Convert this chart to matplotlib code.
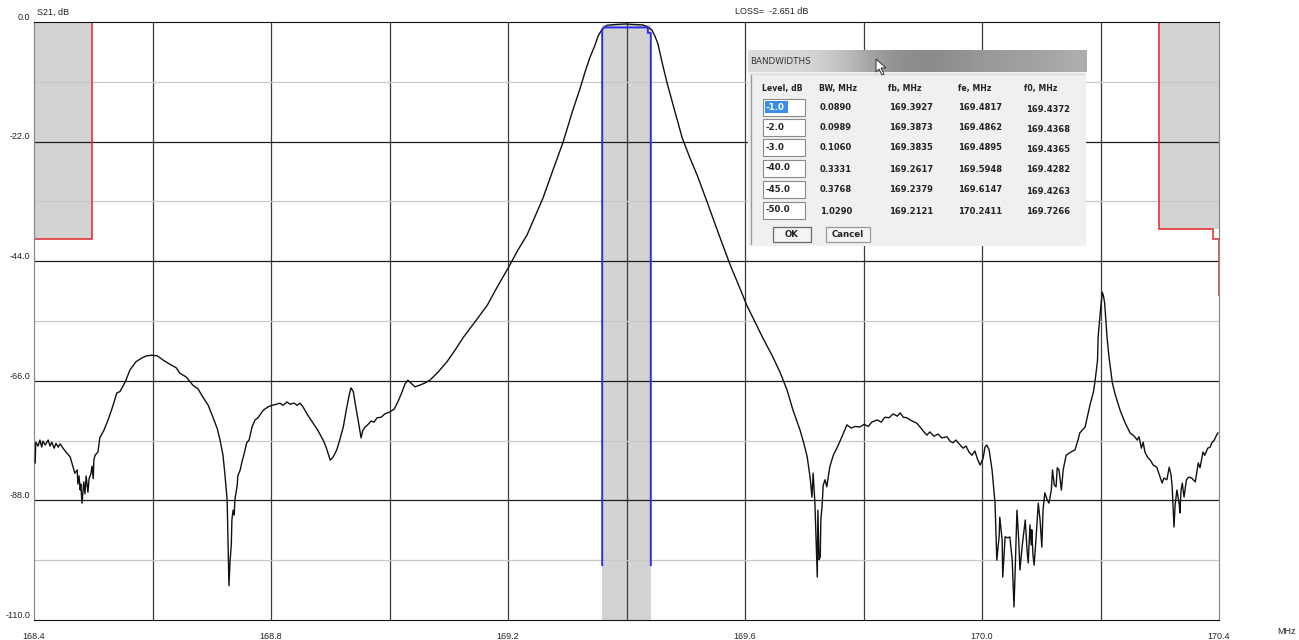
import numpy as np
import matplotlib
matplotlib.use("Agg")
import matplotlib.pyplot as plt
import matplotlib.transforms as mtransforms
from matplotlib.patches import Rectangle, Polygon

plt.rcParams['font.family'] = ['Liberation Sans', 'DejaVu Sans']

# ─── Dane: odpowiedź S21 filtra ─────────────────────────────────
freq_mhz = [
    168.402, 168.403, 168.407, 168.410, 168.413, 168.415, 168.419, 168.424, 168.427, 168.430,
    168.434, 168.437, 168.441, 168.444, 168.449, 168.454, 168.461, 168.466, 168.469, 168.473,
    168.474, 168.476, 168.478, 168.479, 168.481, 168.484, 168.486, 168.488, 168.491, 168.493,
    168.496, 168.498, 168.500, 168.501, 168.503, 168.508, 168.511, 168.518, 168.525, 168.532,
    168.540, 168.545, 168.554, 168.562, 168.572, 168.582, 168.590, 168.599, 168.608, 168.618,
    168.630, 168.640, 168.646, 168.657, 168.668, 168.677, 168.685, 168.694, 168.702, 168.709,
    168.714, 168.719, 168.722, 168.726, 168.727, 168.729, 168.731, 168.733, 168.734, 168.736,
    168.738, 168.739, 168.743, 168.744, 168.748, 168.751, 168.754, 168.759, 168.763, 168.768,
    168.773, 168.778, 168.787, 168.795, 168.802, 168.810, 168.815, 168.820, 168.827, 168.832,
    168.839, 168.844, 168.849, 168.854, 168.862, 168.871, 168.879, 168.888, 168.893, 168.900,
    168.905, 168.911, 168.916, 168.922, 168.927, 168.932, 168.935, 168.939, 168.942, 168.947,
    168.952, 168.955, 168.959, 168.964, 168.969, 168.974, 168.979, 168.986, 168.992, 169.001,
    169.008, 169.014, 169.021, 169.026, 169.031, 169.036, 169.043, 169.051, 169.060, 169.068,
    169.082, 169.097, 169.111, 169.124, 169.144, 169.165, 169.181, 169.200, 169.217, 169.232,
    169.246, 169.259, 169.276, 169.293, 169.308, 169.322, 169.330, 169.338, 169.347, 169.352,
    169.359, 169.367, 169.381, 169.398, 169.414, 169.428, 169.436, 169.443, 169.448, 169.453,
    169.460, 169.468, 169.480, 169.494, 169.507, 169.519, 169.533, 169.546, 169.560, 169.575,
    169.590, 169.603, 169.617, 169.630, 169.646, 169.659, 169.671, 169.681, 169.693, 169.700,
    169.705, 169.710, 169.712, 169.713, 169.715, 169.717, 169.718, 169.720, 169.722, 169.723,
    169.725, 169.727, 169.728, 169.730, 169.732, 169.735, 169.738, 169.743, 169.749, 169.755,
    169.764, 169.772, 169.779, 169.786, 169.794, 169.801, 169.808, 169.814, 169.823, 169.830,
    169.836, 169.843, 169.850, 169.857, 169.862, 169.867, 169.873, 169.882, 169.890, 169.897,
    169.902, 169.907, 169.912, 169.919, 169.926, 169.932, 169.941, 169.946, 169.951, 169.956,
    169.963, 169.968, 169.973, 169.978, 169.983, 169.988, 169.993, 169.997, 170.002, 170.005,
    170.008, 170.012, 170.017, 170.022, 170.025, 170.029, 170.030, 170.034, 170.035, 170.039,
    170.044, 170.047, 170.051, 170.054, 170.056, 170.059, 170.062, 170.064, 170.068, 170.073,
    170.076, 170.078, 170.081, 170.083, 170.084, 170.086, 170.088, 170.091, 170.095, 170.098,
    170.101, 170.103, 170.106, 170.110, 170.113, 170.117, 170.119, 170.122, 170.125, 170.127,
    170.130, 170.134, 170.137, 170.142, 170.150, 170.157, 170.162, 170.165, 170.174, 170.179,
    170.183, 170.188, 170.191, 170.195, 170.196, 170.200, 170.202, 170.203, 170.205, 170.207,
    170.209, 170.211, 170.214, 170.220, 170.225, 170.233, 170.241, 170.250, 170.257, 170.262,
    170.265, 170.269, 170.272, 170.275, 170.279, 170.284, 170.289, 170.295, 170.300, 170.304,
    170.307, 170.312, 170.316, 170.319, 170.321, 170.324, 170.326, 170.329, 170.333, 170.334,
    170.336, 170.338, 170.341, 170.345, 170.349, 170.354, 170.360, 170.365, 170.368, 170.373,
    170.376, 170.381, 170.385, 170.388, 170.392, 170.395, 170.398,
]
s21_db = [
    -81.1, -77.3, -78.0, -76.9, -78.2, -77.1, -77.8, -76.9, -78.0, -77.3,
    -78.4, -77.5, -78.2, -77.6, -78.4, -79.1, -80.0, -81.9, -83.0, -82.4,
    -85.0, -83.5, -86.1, -85.0, -88.5, -84.6, -86.8, -83.5, -86.5, -84.0,
    -83.1, -81.7, -84.0, -80.6, -79.7, -79.1, -76.5, -75.1, -73.2, -71.0,
    -68.2, -68.0, -66.2, -64.0, -62.5, -61.8, -61.4, -61.3, -61.4, -62.2,
    -63.0, -63.6, -64.6, -65.3, -66.8, -67.5, -69.0, -70.5, -72.7, -74.7,
    -76.9, -79.7, -83.0, -87.9, -93.4, -103.7, -99.0, -96.2, -91.6, -89.8,
    -90.7, -87.9, -85.2, -83.5, -82.4, -80.9, -79.7, -77.4, -76.9, -74.5,
    -73.2, -72.8, -71.4, -70.8, -70.5, -70.3, -70.1, -70.5, -69.9, -70.3,
    -70.1, -70.5, -70.1, -70.8, -72.3, -73.8, -75.1, -76.9, -78.2, -80.6,
    -80.0, -78.7, -76.9, -74.5, -71.4, -68.6, -67.3, -68.0, -70.1, -73.2,
    -76.5, -75.1, -74.5, -74.0, -73.4, -73.6, -72.8, -72.7, -72.1, -71.7,
    -71.2, -69.9, -68.1, -66.6, -65.9, -66.4, -67.1, -66.8, -66.4, -65.9,
    -64.4, -62.5, -60.3, -58.1, -55.2, -52.1, -48.9, -45.3, -41.9, -39.2,
    -35.7, -32.4, -27.2, -22.1, -16.7, -12.1, -9.2, -6.6, -4.2, -2.6,
    -1.3, -0.6, -0.46, -0.37, -0.46, -0.55, -0.9, -1.5, -2.6, -4.0,
    -7.4, -11.0, -15.8, -21.3, -25.0, -28.1, -32.2, -36.1, -40.3, -44.7,
    -48.6, -52.1, -55.2, -58.1, -61.4, -64.4, -67.7, -71.4, -75.1, -77.8,
    -80.0, -83.9, -86.1, -87.4, -83.0, -86.8, -88.5, -95.3, -102.1, -89.8,
    -98.9, -98.4, -91.6, -89.2, -85.2, -84.2, -85.5, -81.9, -79.7, -78.4,
    -76.2, -74.1, -74.7, -74.4, -74.5, -74.0, -74.4, -73.6, -73.2, -73.6,
    -72.7, -72.8, -72.1, -72.5, -71.9, -72.7, -72.8, -73.4, -73.8, -74.7,
    -75.4, -76.0, -75.4, -76.2, -75.8, -76.5, -76.3, -77.1, -77.4, -76.9,
    -77.8, -78.4, -78.0, -79.1, -79.7, -78.9, -80.6, -81.5, -80.2, -78.2,
    -77.8, -78.7, -82.4, -88.5, -99.0, -94.5, -91.1, -95.3, -102.1, -94.7,
    -94.9, -94.7, -99.0, -107.6, -100.8, -89.8, -95.3, -100.8, -96.2, -91.6,
    -97.1, -99.5, -92.5, -96.2, -93.4, -98.0, -99.9, -95.3, -88.5, -91.6,
    -96.6, -89.8, -86.6, -87.9, -88.5, -86.1, -82.4, -85.2, -85.5, -82.0,
    -82.4, -86.1, -82.4, -79.7, -79.1, -78.7, -76.9, -75.6, -74.5, -72.1,
    -70.1, -68.1, -65.9, -62.2, -57.9, -53.0, -50.8, -49.7, -50.4, -51.7,
    -54.8, -57.9, -61.3, -66.4, -68.6, -71.4, -73.6, -75.6, -76.2, -76.9,
    -76.3, -78.4, -77.3, -79.1, -80.0, -80.6, -81.5, -81.9, -83.5, -84.8,
    -83.9, -84.2, -81.9, -83.3, -85.5, -92.9, -88.8, -86.1, -88.8, -90.3,
    -86.1, -84.8, -87.4, -84.2, -83.7, -83.9, -84.6, -81.1, -82.0, -79.1,
    -79.7, -78.4, -78.2, -77.4, -76.9, -76.2, -75.6,
]

# maska (czerwona linia) i pasmo
mask_f = [168.4, 168.498, 168.498, 170.299, 170.299, 170.39, 170.39, 170.4, 170.4]
mask_db = [-40.0, -40.0, 0.0, 0.0, -38.1, -38.1, -40.0, -40.0, -50.2]
pass_f = [169.359, 169.441]
blue_f = [169.359, 169.359, 169.362, 169.436, 169.436, 169.441, 169.441]
blue_db = [-99.9, -1.4, -1.0, -1.0, -2.0, -2.0, -99.9]

x_ticks = [168.4, 168.8, 169.2, 169.6, 170.0, 170.4]
x_grid = [168.6, 168.8, 169.0, 169.2, 169.4, 169.6, 169.8, 170.0, 170.2]
y_ticks = [0.0, -22.0, -44.0, -66.0, -88.0, -110.0]
y_minor = [-11.0, -33.0, -55.0, -77.0, -99.0]

# tabela BANDWIDTHS
bw_levels = ["-1.0", "-2.0", "-3.0", "-40.0", "-45.0", "-50.0"]
bw_mhz = ["0.0890", "0.0989", "0.1060", "0.3331", "0.3768", "1.0290"]
bw_fb = ["169.3927", "169.3873", "169.3835", "169.2617", "169.2379", "169.2121"]
bw_fe = ["169.4817", "169.4862", "169.4895", "169.5948", "169.6147", "170.2411"]
bw_f0 = ["169.4372", "169.4368", "169.4365", "169.4282", "169.4263", "169.7266"]

W, H = 1299, 640
fig = plt.figure(figsize=(W / 100, H / 100), dpi=100)
ax = fig.add_axes([34 / W, 20 / H, 1185 / W, 598 / H])
ax.set_xlim(168.4, 170.4)
ax.set_ylim(-110, 0)

# szare obszary
ax.add_patch(Rectangle((168.4, -40.0), 0.098, 40.0, facecolor="#d3d3d3", edgecolor="none", zorder=0))
ax.add_patch(Rectangle((170.299, -38.1), 0.101, 38.1, facecolor="#d3d3d3", edgecolor="none", zorder=0))
ax.add_patch(Rectangle((pass_f[0], -110), pass_f[1] - pass_f[0], 109.4,
                       facecolor="#d3d3d3", edgecolor="none", zorder=0))

# siatka
for g in x_grid:
    ax.axvline(g, color="#3c3c3c", lw=0.9, zorder=1)
for g in y_ticks[1:-1]:
    ax.axhline(g, color="#1e1e1e", lw=0.9, zorder=1)
for g in y_minor:
    ax.axhline(g, color="#c8c8c8", lw=0.9, zorder=1)

ax.plot(mask_f, mask_db, color="#e0262a", lw=1.1, zorder=2, solid_joinstyle="miter")
ax.plot(freq_mhz, s21_db, color="#111111", lw=1.0, zorder=3)
ax.plot(blue_f, blue_db, color="#2a2ee6", lw=1.4, zorder=4)

for side in ["left", "right"]:
    ax.spines[side].set_color("#8a8a8a")
    ax.spines[side].set_linewidth(0.9)
ax.spines["bottom"].set_color("#111111")
ax.spines["top"].set_color("#111111")
ax.set_xticks([])
ax.set_yticks([])

tr = mtransforms.blended_transform_factory(ax.transAxes, ax.transData)
for v in y_ticks:
    ax.text(-0.003, v + 0.4, f"{v:.1f}", transform=tr, ha="right", va="baseline",
            fontsize=6.5, color="#222222", clip_on=False)
trx = mtransforms.blended_transform_factory(ax.transData, ax.transAxes)
for v in x_ticks:
    ax.text(v, -0.02, f"{v:.1f}", transform=trx, ha="center", va="top",
            fontsize=6.5, color="#222222", clip_on=False)
fig.text(1287 / W, 1 - 632 / H, "MHz", ha="center", va="center", fontsize=6.5, color="#222222")
fig.text(37 / W, 1 - 12 / H, "S21, dB", ha="left", va="center", fontsize=6.5, color="#222222")
fig.text(735 / W, 1 - 12 / H, "LOSS=  -2.651 dB", ha="left", va="center", fontsize=6.5, color="#222222")

# ─── okno dialogowe BANDWIDTHS ──────────────────────────────────
DLG = dict(family="DejaVu Sans", fontweight="bold", color="#222222", va="center")
x0, x1, y0, y1 = 748, 1086, 50, 246
dax = fig.add_axes([x0 / W, 1 - y1 / H, (x1 - x0) / W, (y1 - y0) / H])
dax.set_xlim(x0, x1)
dax.set_ylim(y1, y0)
dax.axis("off")
dax.add_patch(Rectangle((x0, y0), x1 - x0, y1 - y0, facecolor="#f0f0f0", edgecolor="none"))
grad = np.array([[0.86, 0.85, 0.82, 0.74, 0.62, 0.55, 0.54, 0.57, 0.60, 0.62, 0.64, 0.68]])
dax.imshow(grad, cmap="gray", vmin=0, vmax=1, aspect="auto", extent=(x0, x1, 72, y0),
           interpolation="bicubic", zorder=1)
dax.text(750, 61, "BANDWIDTHS", family="DejaVu Sans", fontsize=6.3, color="#333333",
         va="center", ha="left", zorder=2)
dax.plot([751, 751], [74, 244], color="#9a9a9a", lw=1.0, zorder=2)
dax.plot([751, 1084], [74, 74], color="#d8d8d8", lw=1.0, zorder=2)

hdr_y = 88
for xx, t in [(762, "Level, dB"), (819, "BW, MHz"), (888, "fb, MHz"), (958, "fe, MHz"), (1024, "f0, MHz")]:
    dax.text(xx, hdr_y, t, fontsize=5.6, zorder=2, **DLG)
row_y = [107, 127, 147, 168, 189, 210]
for i, ry in enumerate(row_y):
    dax.add_patch(Rectangle((763, ry - 8.5), 42, 17, facecolor="white", edgecolor="#8a8a8a", lw=0.8, zorder=2))
    if i == 0:
        dax.add_patch(Rectangle((765, ry - 6), 23, 12, facecolor="#3b8ee8", edgecolor="none", zorder=3))
        dax.text(766, ry, bw_levels[i], fontsize=6.2, zorder=4, **{**DLG, "color": "white"})
    else:
        dax.text(766, ry, bw_levels[i], fontsize=6.2, zorder=4, **DLG)
    dax.text(820, ry + 1, bw_mhz[i], fontsize=6.0, zorder=2, **DLG)
    dax.text(889, ry + 1, bw_fb[i], fontsize=6.0, zorder=2, **DLG)
    dax.text(958, ry + 1, bw_fe[i], fontsize=6.0, zorder=2, **DLG)
    dax.text(1026, ry + 2, bw_f0[i], fontsize=6.0, zorder=2, **DLG)

dax.add_patch(Rectangle((773, 227), 38, 15, facecolor="#f4f4f4", edgecolor="#6a6a6a", lw=0.9, zorder=2))
dax.text(792, 234.5, "OK", fontsize=6.2, ha="center", zorder=3, **DLG)
dax.add_patch(Rectangle((826, 227), 44, 15, facecolor="#f4f4f4", edgecolor="#9a9a9a", lw=0.9, zorder=2))
dax.text(848, 234.5, "Cancel", fontsize=6.2, ha="center", zorder=3, **DLG)

# kursor myszy
dax.add_patch(Polygon([(876, 59), (876, 72), (879, 69), (882, 75), (884, 74), (881, 68), (886, 68)],
                      closed=True, facecolor="white", edgecolor="#333333", lw=0.7, zorder=5))

fig.savefig("out.png", dpi=100, facecolor="white")
